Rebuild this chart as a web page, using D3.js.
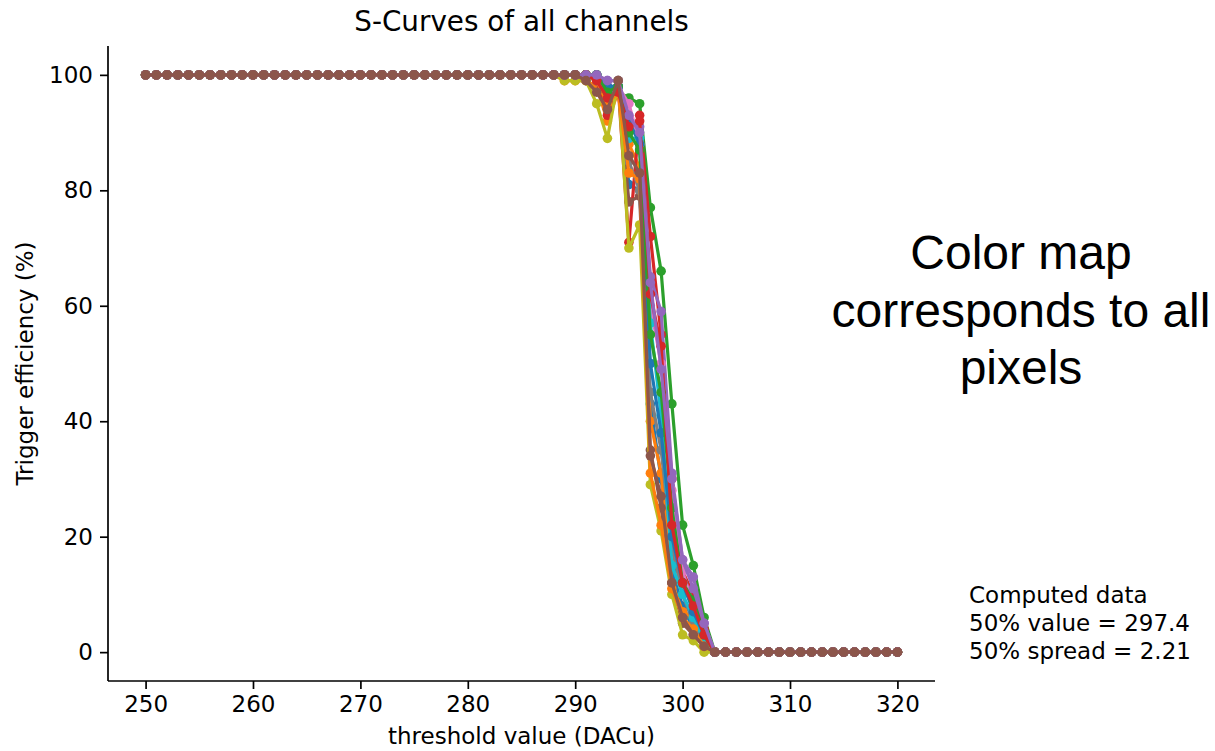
<!DOCTYPE html>
<html>
<head>
<meta charset="utf-8">
<script src="https://cdn.jsdelivr.net/npm/d3@7/dist/d3.min.js"></script>
<style>
  html, body { margin: 0; padding: 0; background: #fff; }
  svg { display: block; }
</style>
</head>
<body>
<svg id="chart" width="1215" height="751"></svg>
<script>
// ---- data ----
const thresholds = d3.range(250, 321); // 250..320 DACu
const xTicks = [250, 260, 270, 280, 290, 300, 310, 320];
const yTicks = [0, 20, 40, 60, 80, 100];
const colors = ["#1f77b4", "#ff7f0e", "#2ca02c", "#d62728", "#9467bd", "#8c564b", "#e377c2", "#7f7f7f", "#bcbd22", "#17becf"];

const ch00 = [100,100,100,100,100,100,100,100,100,100,100,100,100,100,100,100,100,100,100,100,100,100,100,100,100,100,100,100,100,100,100,100,100,100,100,100,100,100, 100,100,100,100,99,97,98,81,80,43,30,14,8,4,1,0, 0,0,0,0,0,0,0,0,0,0,0,0,0,0,0,0,0];
const ch01 = [100,100,100,100,100,100,100,100,100,100,100,100,100,100,100,100,100,100,100,100,100,100,100,100,100,100,100,100,100,100,100,100,100,100,100,100,100,100, 100,99,99,99,98,92,97,88,84,40,31,12,7,6,2,0, 0,0,0,0,0,0,0,0,0,0,0,0,0,0,0,0,0];
const ch02 = [100,100,100,100,100,100,100,100,100,100,100,100,100,100,100,100,100,100,100,100,100,100,100,100,100,100,100,100,100,100,100,100,100,100,100,100,100,100, 100,100,100,100,100,98,97,96,95,77,66,43,22,15,6,0, 0,0,0,0,0,0,0,0,0,0,0,0,0,0,0,0,0];
const ch03 = [100,100,100,100,100,100,100,100,100,100,100,100,100,100,100,100,100,100,100,100,100,100,100,100,100,100,100,100,100,100,100,100,100,100,100,100,100,100, 100,100,100,100,99,93,98,71,93,72,55,30,14,10,4,0, 0,0,0,0,0,0,0,0,0,0,0,0,0,0,0,0,0];
const ch04 = [100,100,100,100,100,100,100,100,100,100,100,100,100,100,100,100,100,100,100,100,100,100,100,100,100,100,100,100,100,100,100,100,100,100,100,100,100,100, 100,100,100,100,100,99,99,92,91,65,59,31,16,13,5,0, 0,0,0,0,0,0,0,0,0,0,0,0,0,0,0,0,0];
const ch05 = [100,100,100,100,100,100,100,100,100,100,100,100,100,100,100,100,100,100,100,100,100,100,100,100,100,100,100,100,100,100,100,100,100,100,100,100,100,100, 100,100,100,100,99,95,98,78,79,35,25,12,5,3,1,0, 0,0,0,0,0,0,0,0,0,0,0,0,0,0,0,0,0];
const ch06 = [100,100,100,100,100,100,100,100,100,100,100,100,100,100,100,100,100,100,100,100,100,100,100,100,100,100,100,100,100,100,100,100,100,100,100,100,100,100, 100,100,100,100,100,98,98,95,88,60,50,28,14,8,3,0, 0,0,0,0,0,0,0,0,0,0,0,0,0,0,0,0,0];
const ch07 = [100,100,100,100,100,100,100,100,100,100,100,100,100,100,100,100,100,100,100,100,100,100,100,100,100,100,100,100,100,100,100,100,100,100,100,100,100,100, 100,100,100,100,99,97,97,85,80,45,35,18,10,5,2,0, 0,0,0,0,0,0,0,0,0,0,0,0,0,0,0,0,0];
const ch08 = [100,100,100,100,100,100,100,100,100,100,100,100,100,100,100,100,100,100,100,100,100,100,100,100,100,100,100,100,100,100,100,100,100,100,100,100,100,100, 100,99,99,99,95,89,99,70,74,29,21,10,3,2,0,0, 0,0,0,0,0,0,0,0,0,0,0,0,0,0,0,0,0];
const ch09 = [100,100,100,100,100,100,100,100,100,100,100,100,100,100,100,100,100,100,100,100,100,100,100,100,100,100,100,100,100,100,100,100,100,100,100,100,100,100, 100,100,100,100,99,96,98,89,89,57,41,15,10,6,2,0, 0,0,0,0,0,0,0,0,0,0,0,0,0,0,0,0,0];
const ch10 = [100,100,100,100,100,100,100,100,100,100,100,100,100,100,100,100,100,100,100,100,100,100,100,100,100,100,100,100,100,100,100,100,100,100,100,100,100,100, 100,100,100,100,100,98,98,92,88,50,38,20,12,7,3,0, 0,0,0,0,0,0,0,0,0,0,0,0,0,0,0,0,0];
const ch11 = [100,100,100,100,100,100,100,100,100,100,100,100,100,100,100,100,100,100,100,100,100,100,100,100,100,100,100,100,100,100,100,100,100,100,100,100,100,100, 100,100,100,100,99,95,97,83,82,31,22,11,6,4,1,0, 0,0,0,0,0,0,0,0,0,0,0,0,0,0,0,0,0];
const ch12 = [100,100,100,100,100,100,100,100,100,100,100,100,100,100,100,100,100,100,100,100,100,100,100,100,100,100,100,100,100,100,100,100,100,100,100,100,100,100, 100,100,100,100,100,97,98,90,87,55,45,25,12,9,3,0, 0,0,0,0,0,0,0,0,0,0,0,0,0,0,0,0,0];
const ch13 = [100,100,100,100,100,100,100,100,100,100,100,100,100,100,100,100,100,100,100,100,100,100,100,100,100,100,100,100,100,100,100,100,100,100,100,100,100,100, 100,100,100,100,99,96,97,91,92,62,53,22,12,8,3,0, 0,0,0,0,0,0,0,0,0,0,0,0,0,0,0,0,0];
const ch14 = [100,100,100,100,100,100,100,100,100,100,100,100,100,100,100,100,100,100,100,100,100,100,100,100,100,100,100,100,100,100,100,100,100,100,100,100,100,100, 100,100,100,100,100,99,99,93,90,64,49,30,16,11,5,0, 0,0,0,0,0,0,0,0,0,0,0,0,0,0,0,0,0];
const ch15 = [100,100,100,100,100,100,100,100,100,100,100,100,100,100,100,100,100,100,100,100,100,100,100,100,100,100,100,100,100,100,100,100,100,100,100,100,100,100, 100,100,100,99,97,94,99,86,83,34,27,12,6,3,1,0, 0,0,0,0,0,0,0,0,0,0,0,0,0,0,0,0,0];
const channels = [ch00, ch01, ch02, ch03, ch04, ch05, ch06, ch07, ch08, ch09, ch10, ch11, ch12, ch13, ch14, ch15];

const titleText = "S-Curves of all channels";
const xLabelText = "threshold value (DACu)";
const yLabelText = "Trigger efficiency (%)";
const statsLines = ["Computed data", "50% value = 297.4", "50% spread = 2.21"];
const noteLines = ["Color map", "corresponds to all", "pixels"];

// ---- layout ----
const svg = d3.select("#chart");
const plot = { left: 108, right: 935, top: 46, bottom: 681 };
const x = d3.scaleLinear().domain([246.5, 323.5]).range([plot.left, plot.right]);
const y = d3.scaleLinear().domain([-5, 105]).range([plot.bottom, plot.top]);
const FONT = "'DejaVu Sans', sans-serif";

// series
const line = d3.line().x((d, i) => x(thresholds[i])).y(d => y(d));
const g = svg.append("g");
channels.forEach((vals, k) => {
  const c = colors[k % colors.length];
  const sg = g.append("g");
  sg.append("path").datum(vals).attr("d", line)
    .attr("fill", "none").attr("stroke", c).attr("stroke-width", 3.2)
    .attr("stroke-linejoin", "round");
  sg.selectAll("circle").data(vals).join("circle")
    .attr("cx", (d, i) => x(thresholds[i])).attr("cy", d => y(d))
    .attr("r", 4.8).attr("fill", c);
});

// axes
const xAxis = d3.axisBottom(x).tickValues(xTicks).tickSize(8).tickPadding(7).tickFormat(d3.format("d"));
const yAxis = d3.axisLeft(y).tickValues(yTicks).tickSize(8).tickPadding(7).tickFormat(d3.format("d"));
const gx = svg.append("g").attr("transform", `translate(0,${plot.bottom})`).call(xAxis);
const gy = svg.append("g").attr("transform", `translate(${plot.left},0)`).call(yAxis);
[gx, gy].forEach(a => {
  a.select(".domain").attr("stroke", "#000").attr("stroke-width", 1.7);
  a.selectAll(".tick line").attr("stroke", "#000").attr("stroke-width", 1.7);
  a.selectAll(".tick text").attr("fill", "#000").style("font-family", FONT).style("font-size", "23px");
});
gx.select(".domain").attr("d", `M${plot.left},0H${plot.right}`);
gy.select(".domain").attr("d", `M0,${plot.bottom}V${plot.top}`);

// title and labels
svg.append("text").attr("x", (plot.left + plot.right) / 2).attr("y", 31)
  .attr("text-anchor", "middle").style("font-family", FONT).style("font-size", "27.8px").text(titleText);
svg.append("text").attr("x", (plot.left + plot.right) / 2).attr("y", 744)
  .attr("text-anchor", "middle").style("font-family", FONT).style("font-size", "23px").text(xLabelText);
svg.append("text").attr("transform", `translate(33,${(plot.top + plot.bottom) / 2}) rotate(-90)`)
  .attr("text-anchor", "middle").style("font-family", FONT).style("font-size", "23px").text(yLabelText);

// stats text
svg.append("g").selectAll("text").data(statsLines).join("text")
  .attr("x", 969).attr("y", (d, i) => 603 + i * 27.8)
  .style("font-family", FONT).style("font-size", "23px").text(d => d);

// big note
svg.append("g").selectAll("text").data(noteLines).join("text")
  .attr("x", 1021).attr("y", (d, i) => 269 + i * 57.5)
  .attr("text-anchor", "middle").style("font-family", "'Liberation Sans', Arial, sans-serif")
  .style("font-size", "48px").text(d => d);
</script>
</body>
</html>
